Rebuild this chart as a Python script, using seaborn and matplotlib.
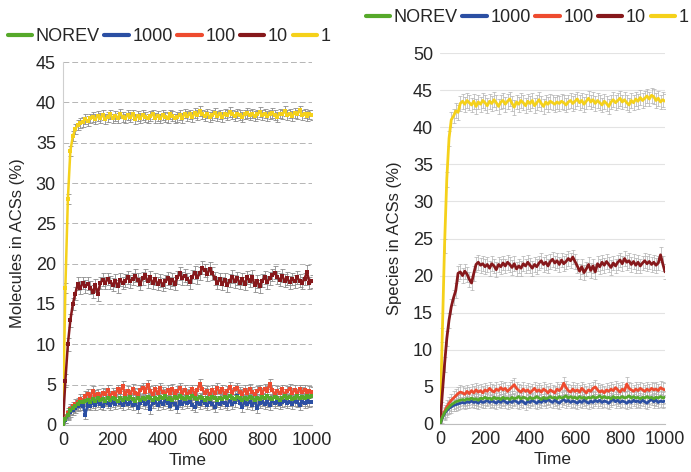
import numpy as np
import pandas as pd
import matplotlib
matplotlib.use("Agg")
import matplotlib.pyplot as plt
from matplotlib.lines import Line2D
import seaborn as sns

# ---------------- data ----------------
time = list(range(0, 1001, 10))
series_names = ["NOREV", "1000", "100", "10", "1"]

left_1 = [0, 17.0, 28.0, 34.0, 35.8, 36.7, 37.2, 37.4, 37.6, 37.9,
          37.7, 38.0, 38.2, 37.9, 38.3, 38.1, 38.4, 37.9, 38.2, 38.5,
          38.0, 38.3, 38.1, 38.6, 38.2, 38.0, 38.4, 38.2, 38.5, 37.9,
          38.3, 38.1, 38.4, 38.2, 38.0, 38.3, 38.5, 38.1, 38.3, 38.0,
          38.4, 38.2, 38.1, 38.5, 38.3, 38.0, 38.2, 38.4, 38.1, 38.6,
          38.3, 38.5, 38.2, 38.7, 38.4, 38.9, 38.5, 38.3, 38.6, 38.2,
          38.4, 38.7, 38.3, 38.5, 38.2, 38.6, 38.4, 38.8, 38.5, 38.3,
          38.6, 38.4, 38.2, 38.5, 38.7, 38.4, 38.6, 38.3, 38.5, 38.8,
          38.4, 38.6, 38.3, 38.5, 38.7, 38.4, 38.2, 38.6, 38.5, 38.9,
          38.4, 38.6, 38.3, 38.7, 38.5, 39.0, 38.4, 38.6, 38.3, 38.5, 38.4]
left_10 = [0, 5.5, 10.0, 13.0, 15.0, 16.3, 17.5, 17.0, 17.6, 17.2,
           17.5, 17.0, 16.5, 17.3, 16.2, 17.6, 18.0, 17.6, 18.1, 17.7,
           17.4, 17.9, 17.2, 18.0, 17.6, 17.9, 18.3, 17.8, 18.1, 18.5,
           18.0, 17.5, 18.2, 18.6, 17.8, 18.3, 17.6, 18.1, 17.5, 17.9,
           17.4, 17.8, 18.2, 17.6, 18.0, 17.5, 18.3, 18.8, 18.2, 18.5,
           18.1, 17.7, 18.4, 18.9, 18.3, 18.8, 19.5, 19.2, 18.7, 19.4,
           18.8, 18.2, 17.6, 18.1, 17.5, 18.0, 17.3, 17.9, 18.4, 17.8,
           18.2, 17.6, 18.1, 17.5, 18.3, 17.9, 18.4, 17.3, 17.8, 17.2,
           17.9, 18.3, 17.7, 18.2, 18.6, 18.9, 18.3, 18.0, 18.5, 17.9,
           18.2, 17.7, 18.1, 17.8, 18.3, 17.9, 17.6, 18.1, 19.0, 17.6, 17.8]
left_100 = [0, 0.8, 1.5, 2.0, 2.3, 2.6, 2.8, 3.2, 3.0, 3.6,
            3.9, 3.5, 4.2, 3.7, 3.9, 3.5, 4.0, 3.8, 4.3, 3.6,
            4.0, 3.7, 4.4, 4.1, 4.8, 3.9, 4.2, 3.7, 4.5, 4.0,
            3.8, 4.3, 4.6, 4.1, 5.0, 4.2, 3.8, 4.4, 4.0, 4.6,
            4.1, 3.8, 4.3, 4.0, 4.5, 3.9, 4.2, 4.6, 4.0, 4.3,
            3.8, 4.1, 4.4, 3.9, 4.3, 5.1, 4.4, 4.0, 4.2, 3.8,
            4.3, 4.0, 4.6, 4.1, 4.4, 3.9, 4.2, 4.7, 4.0, 4.4,
            4.6, 4.1, 3.9, 4.3, 4.0, 4.5, 4.1, 3.8, 4.2, 4.4,
            4.0, 4.5, 4.2, 5.1, 4.3, 3.9, 4.2, 4.0, 4.4, 3.8,
            4.2, 4.5, 4.0, 4.3, 3.9, 4.4, 4.1, 4.3, 3.9, 4.2, 4.1]
left_1000 = [0, 0.6, 1.2, 1.6, 1.9, 2.1, 2.3, 2.5, 2.4, 1.3,
             2.6, 2.4, 2.7, 2.5, 2.8, 2.6, 2.4, 2.9, 2.7, 2.5,
             2.8, 2.6, 3.0, 2.7, 2.5, 2.9, 2.6, 2.8, 2.5, 2.9,
             2.1, 2.7, 3.0, 2.6, 2.8, 2.0, 2.7, 2.9, 2.5, 2.8,
             2.6, 3.0, 2.7, 2.4, 2.9, 2.6, 2.1, 2.8, 2.6, 3.0,
             2.7, 2.9, 2.5, 2.2, 2.8, 2.6, 3.0, 2.7, 2.5, 2.9,
             2.6, 2.2, 2.8, 2.6, 2.9, 2.7, 2.5, 3.0, 2.6, 2.8,
             3.6, 2.7, 2.2, 2.9, 2.6, 2.8, 2.5, 3.0, 2.1, 2.7,
             2.9, 2.6, 2.8, 2.5, 3.0, 2.7, 2.9, 2.6, 2.8, 3.0,
             2.7, 2.9, 2.6, 3.0, 2.8, 2.5, 2.9, 2.7, 3.0, 2.8, 2.9]
left_norev = [0, 0.7, 1.3, 1.8, 2.1, 2.4, 2.6, 2.8, 2.9, 3.0,
              3.1, 2.9, 3.2, 3.0, 3.3, 3.1, 3.2, 3.0, 3.3, 3.1,
              3.4, 3.2, 3.0, 3.3, 3.1, 3.4, 3.2, 3.5, 3.2, 3.0,
              3.3, 3.1, 3.4, 3.2, 3.5, 3.3, 3.1, 3.4, 3.2, 3.5,
              3.3, 3.6, 3.2, 3.4, 3.1, 3.5, 3.3, 3.6, 3.4, 3.2,
              3.5, 3.3, 3.6, 3.4, 3.2, 3.5, 3.3, 3.1, 3.4, 3.2,
              3.5, 3.3, 3.1, 3.4, 3.2, 3.5, 3.3, 3.6, 3.4, 3.2,
              3.5, 3.3, 3.1, 3.4, 3.2, 3.5, 3.3, 3.1, 3.4, 3.2,
              3.5, 3.3, 3.6, 3.4, 3.2, 3.5, 3.3, 3.1, 3.4, 3.6,
              3.3, 3.5, 3.2, 3.4, 3.6, 3.3, 3.5, 3.4, 3.6, 3.5, 3.6]

right_1 = [0, 12.0, 24.0, 33.0, 38.5, 41.0, 41.5, 42.2, 42.0, 43.2,
           43.5, 43.1, 43.6, 43.3, 43.0, 43.5, 42.8, 43.4, 43.1, 43.6,
           43.3, 42.9, 43.5, 43.2, 43.7, 43.3, 42.8, 43.4, 43.6, 43.1,
           43.5, 43.8, 43.2, 42.7, 43.4, 43.1, 43.6, 43.3, 42.9, 43.5,
           43.2, 43.6, 42.9, 43.3, 43.7, 43.2, 42.8, 43.4, 43.1, 43.5,
           43.3, 43.1, 43.4, 43.2, 43.5, 43.3, 43.0, 43.4, 43.6, 43.2,
           43.5, 43.8, 43.3, 43.6, 43.1, 43.5, 43.9, 43.4, 43.7, 43.2,
           43.6, 43.3, 43.0, 43.5, 43.2, 42.8, 43.4, 43.7, 43.3, 43.6,
           43.9, 43.4, 43.7, 43.3, 43.0, 43.6, 43.3, 43.8, 43.5, 44.0,
           43.6, 43.9, 44.2, 43.8, 44.3, 44.1, 43.6, 43.9, 43.4, 43.7, 43.5]
right_10 = [0, 4.0, 8.0, 11.5, 14.0, 15.8, 17.0, 18.0, 20.3, 20.5,
            20.0, 20.6, 20.2, 19.5, 19.0, 20.3, 21.5, 21.8, 21.4, 21.6,
            21.2, 21.5, 21.0, 21.6, 21.3, 20.8, 21.5, 21.2, 21.7, 21.3,
            21.8, 21.5, 21.1, 21.6, 20.9, 21.3, 21.0, 21.6, 21.3, 21.8,
            21.4, 21.0, 21.5, 21.2, 21.7, 22.0, 21.5, 21.8, 21.3, 21.9,
            22.2, 21.7, 22.0, 21.5, 22.1, 21.6, 21.9, 22.3, 22.0, 22.5,
            21.9, 21.3, 20.6, 21.2, 20.4, 20.9, 21.5, 20.7, 21.3, 20.5,
            21.6, 21.2, 21.8, 21.4, 21.9, 21.5, 21.1, 21.7, 21.3, 21.8,
            22.1, 21.6, 22.3, 21.8, 22.0, 21.5, 21.9, 21.4, 21.8, 21.3,
            21.7, 22.0, 21.6, 21.9, 21.5, 21.8, 21.4, 21.7, 22.8, 21.6, 20.5]
right_100 = [0, 0.9, 1.7, 2.3, 2.8, 3.2, 3.5, 3.8, 4.1, 4.3,
             4.2, 4.0, 4.4, 4.1, 4.5, 4.2, 4.6, 4.3, 4.5, 4.2,
             4.6, 4.4, 4.8, 4.5, 4.3, 4.7, 4.5, 4.9, 4.6, 4.8,
             4.4, 4.7, 5.0, 5.3, 4.8, 4.5, 4.3, 4.7, 4.4, 4.6,
             4.2, 4.5, 4.8, 4.4, 4.6, 4.3, 4.7, 4.5, 4.2, 4.6,
             4.4, 4.2, 4.7, 4.5, 4.8, 5.5, 4.9, 4.5, 4.3, 4.7,
             4.4, 4.6, 4.3, 4.8, 4.5, 4.2, 4.6, 4.4, 4.8, 5.0,
             4.6, 4.3, 4.5, 4.2, 4.6, 4.4, 4.7, 4.5, 4.9, 4.6,
             4.3, 4.7, 4.5, 5.4, 4.8, 4.6, 4.4, 4.7, 4.5, 4.8,
             4.6, 4.4, 4.7, 4.5, 4.8, 4.6, 4.7, 4.5, 4.9, 4.7, 4.6]
right_1000 = [0, 0.8, 1.4, 1.8, 2.1, 2.3, 2.5, 2.6, 2.7, 2.8,
              2.9, 2.8, 3.0, 2.9, 3.1, 2.9, 3.0, 2.8, 3.1, 2.9,
              3.0, 3.2, 2.9, 3.1, 3.0, 2.8, 3.1, 2.9, 3.2, 3.0,
              2.8, 3.1, 2.9, 3.2, 3.0, 2.8, 3.1, 3.0, 2.7, 3.1,
              2.9, 3.2, 3.0, 2.8, 3.1, 2.9, 3.2, 3.0, 3.3, 3.1,
              2.9, 3.2, 3.0, 2.8, 3.1, 3.3, 3.0, 3.2, 2.9, 3.1,
              3.0, 2.8, 3.1, 2.9, 3.2, 3.0, 2.8, 3.1, 2.9, 3.2,
              3.0, 3.2, 2.9, 3.1, 3.0, 2.8, 3.1, 3.3, 3.0, 3.2,
              2.9, 3.1, 3.0, 2.8, 3.1, 2.9, 3.2, 3.0, 3.1, 2.9,
              3.2, 3.0, 2.8, 3.1, 3.3, 3.0, 3.2, 2.9, 3.1, 3.0, 3.1]
right_norev = [0, 0.9, 1.5, 2.0, 2.3, 2.6, 2.8, 3.0, 3.1, 3.2,
               3.3, 3.2, 3.4, 3.3, 3.5, 3.3, 3.4, 3.2, 3.5, 3.4,
               3.6, 3.4, 3.5, 3.3, 3.6, 3.4, 3.5, 3.3, 3.6, 3.4,
               3.5, 3.3, 3.6, 3.4, 3.5, 3.7, 3.4, 3.6, 3.5, 3.3,
               3.6, 3.4, 3.5, 3.7, 3.5, 3.3, 3.6, 3.4, 3.5, 3.7,
               3.5, 3.6, 3.4, 3.7, 3.5, 3.6, 3.8, 3.5, 3.7, 3.5,
               3.6, 3.4, 3.7, 3.5, 3.6, 3.4, 3.6, 3.5, 3.7, 3.5,
               3.6, 3.8, 3.5, 3.7, 3.5, 3.6, 3.4, 3.7, 3.5, 3.6,
               3.5, 3.7, 3.5, 3.6, 3.8, 3.5, 3.7, 3.5, 3.6, 3.4,
               3.6, 3.5, 3.7, 3.5, 3.6, 3.4, 3.6, 3.5, 3.7, 3.5, 3.6]

# error bar half-widths per series
left_err = {"NOREV": 0.5, "1000": 0.6, "100": 0.6, "10": 0.8, "1": 0.6}
right_err = {"NOREV": 0.8, "1000": 0.8, "100": 0.9, "10": 1.0, "1": 1.0}

left_y_ticks = list(range(0, 46, 5))
right_y_ticks = list(range(0, 51, 5))
x_ticks = [0, 200, 400, 600, 800, 1000]

colors = {"NOREV": "#56a92a", "1000": "#2b4fa3", "100": "#ee4b2f",
          "10": "#86181b", "1": "#f5d11a"}

left_vals = {"NOREV": left_norev, "1000": left_1000, "100": left_100,
             "10": left_10, "1": left_1}
right_vals = {"NOREV": right_norev, "1000": right_1000, "100": right_100,
              "10": right_10, "1": right_1}


def to_long(vals):
    frames = []
    for name in series_names:
        frames.append(pd.DataFrame({"Time": time, "value": vals[name],
                                    "series": name}))
    return pd.concat(frames, ignore_index=True)


sns.set_style("white")
plt.rcParams["font.family"] = ["Liberation Sans", "DejaVu Sans"]

fig = plt.figure(figsize=(6.91, 4.72), dpi=100)
axL = fig.add_axes([0.091, 0.0996, 0.3605, 0.769])
axR = fig.add_axes([0.6368, 0.1017, 0.3256, 0.786])

draw_order = ["1", "10", "100", "1000", "NOREV"]

# ---- left panel ----
dfL = to_long(left_vals)
for name in draw_order:
    axL.errorbar(time, left_vals[name], yerr=left_err[name], fmt="none",
                 ecolor="#8c8c8c", elinewidth=0.6, capsize=1.8,
                 capthick=0.6, zorder=2)
sns.lineplot(data=dfL, x="Time", y="value", hue="series",
             hue_order=draw_order, palette=colors, ax=axL, legend=False,
             marker="s", markersize=3, markeredgewidth=0, linewidth=1.8,
             zorder=3)

# ---- right panel ----
dfR = to_long(right_vals)
for name in draw_order:
    axR.errorbar(time, right_vals[name], yerr=right_err[name], fmt="none",
                 ecolor="#b0b0b0", elinewidth=0.5, capsize=1.5,
                 capthick=0.5, zorder=2)
sns.lineplot(data=dfR, x="Time", y="value", hue="series",
             hue_order=draw_order, palette=colors, ax=axR, legend=False,
             linewidth=2.0, zorder=3)

for ax, yt, lab in [(axL, left_y_ticks, "Molecules in ACSs (%)"),
                    (axR, right_y_ticks, "Species in ACSs (%)")]:
    ax.set_xlim(0, 1000)
    ax.set_ylim(0, yt[-1])
    ax.set_xticks(x_ticks)
    ax.set_yticks(yt)
    ax.tick_params(axis="x", labelsize=13, length=0, pad=5)
    ax.tick_params(axis="y", labelsize=13, length=0, pad=5)
    ax.set_xlabel("Time", fontsize=12.5, labelpad=3)
    ax.set_ylabel(lab, fontsize=12, labelpad=8)
    for s in ["top", "right"]:
        ax.spines[s].set_visible(False)
    ax.spines["left"].set_color("#cfcfcf")
    ax.spines["bottom"].set_color("#bdbdbd")
    ax.set_axisbelow(True)

axL.grid(axis="y", color="#b5b5b5", linestyle=(0, (6, 3)), linewidth=0.7)
axR.grid(axis="y", color="#e3e3e3", linestyle="-", linewidth=0.8)
axR.spines["left"].set_visible(False)

handles = [Line2D([0], [0], color=colors[n], lw=3) for n in series_names]
fig.legend(handles, series_names, loc="center", bbox_to_anchor=(0.245, 0.922),
           ncol=5, frameon=False, fontsize=13, handlelength=1.35,
           handletextpad=0.2, columnspacing=0.25, borderaxespad=0)
fig.legend(handles, series_names, loc="center", bbox_to_anchor=(0.763, 0.962),
           ncol=5, frameon=False, fontsize=13, handlelength=1.35,
           handletextpad=0.2, columnspacing=0.25, borderaxespad=0)

fig.savefig("out.png", dpi=100)
